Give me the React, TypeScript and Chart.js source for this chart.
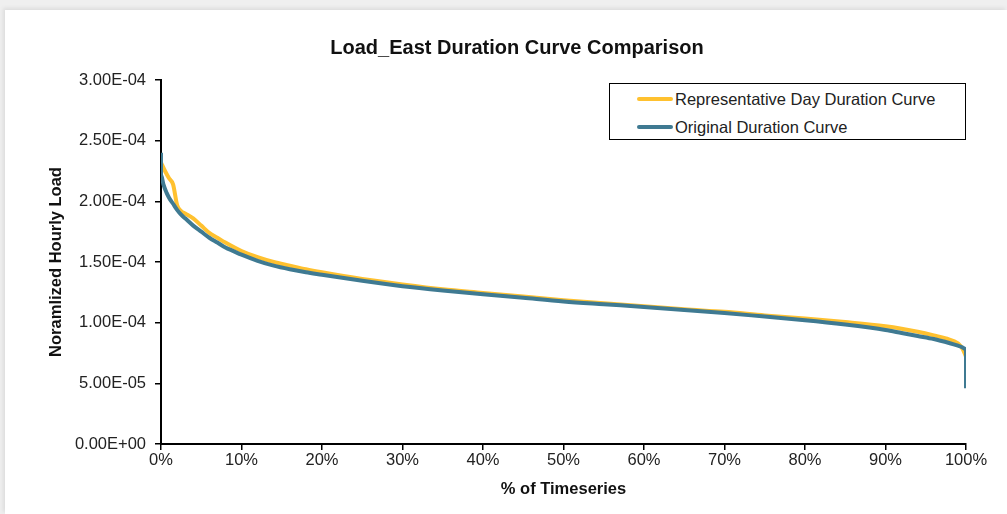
import React, { useEffect, useRef } from "react";
import { Chart, registerables } from "chart.js";

Chart.register(...registerables);

const TITLE = "Load_East Duration Curve Comparison";
const X_TITLE = "% of Timeseries";
const Y_TITLE = "Noramlized Hourly Load";
const REP_LABEL = "Representative Day Duration Curve";
const ORIG_LABEL = "Original Duration Curve";

const REP_COLOR = "#FFC12F";
const ORIG_COLOR = "#3F7A92";

// Original duration curve (% of timeseries, normalized load)
const origX = [0, 0, 0.3, 0.7, 1, 1.5, 2, 2.5, 3, 4, 5, 6, 7, 8, 9, 10, 12, 14, 16, 18, 20, 25, 30, 35, 40, 45, 50, 55, 60, 65, 70, 75, 80, 85, 88, 90, 92, 94, 96, 98, 99, 99.6, 100, 100];
const origY = [2.40e-4, 2.22e-4, 2.14e-4, 2.07e-4, 2.03e-4, 1.98e-4, 1.93e-4, 1.89e-4, 1.86e-4, 1.80e-4, 1.75e-4, 1.70e-4, 1.66e-4, 1.62e-4, 1.59e-4, 1.56e-4, 1.51e-4, 1.47e-4, 1.44e-4, 1.415e-4, 1.395e-4, 1.345e-4, 1.30e-4, 1.265e-4, 1.235e-4, 1.205e-4, 1.175e-4, 1.152e-4, 1.13e-4, 1.105e-4, 1.08e-4, 1.05e-4, 1.02e-4, 0.985e-4, 0.96e-4, 0.94e-4, 0.915e-4, 0.89e-4, 0.865e-4, 0.83e-4, 0.81e-4, 0.795e-4, 0.78e-4, 0.46e-4];

// Representative day duration curve
const repX = [0, 0.5, 1, 1.5, 2, 2.5, 3, 4, 5, 6, 7, 8, 10, 12, 14, 16, 18, 20, 25, 30, 35, 40, 45, 50, 55, 60, 65, 70, 75, 80, 85, 90, 92, 94, 96, 97.5, 99, 99.6, 100];
const repY = [2.32e-4, 2.25e-4, 2.19e-4, 2.14e-4, 1.97e-4, 1.92e-4, 1.90e-4, 1.86e-4, 1.80e-4, 1.74e-4, 1.70e-4, 1.66e-4, 1.59e-4, 1.54e-4, 1.50e-4, 1.47e-4, 1.44e-4, 1.415e-4, 1.36e-4, 1.315e-4, 1.275e-4, 1.245e-4, 1.215e-4, 1.185e-4, 1.16e-4, 1.135e-4, 1.11e-4, 1.09e-4, 1.06e-4, 1.035e-4, 1.005e-4, 0.97e-4, 0.95e-4, 0.925e-4, 0.895e-4, 0.87e-4, 0.83e-4, 0.78e-4, 0.72e-4];

const Y_MIN = 0;
const Y_MAX = 3e-4;
const Y_STEP = 5e-5;
const X_MIN = 0;
const X_MAX = 100;
const X_STEP = 10;

function fmtExp(v: number): string {
  const r = Math.round(v / 1e-6) * 1e-6;
  if (Math.abs(r) < 1e-12) return "0.00E+00";
  const s = r.toExponential(2).toUpperCase();
  const [m, e] = s.split("E");
  const sign = e[0] === "-" ? "-" : "+";
  const digits = e.replace(/[+-]/, "").padStart(2, "0");
  return `${m}E${sign}${digits}`;
}

const FONT = "'Liberation Sans', Arial, sans-serif";
const FS = 16.5;

const titlePlugin = {
  id: "centeredTitle",
  afterDraw(chart: any) {
    const ctx = chart.ctx;
    ctx.save();
    ctx.font = `bold 20px ${FONT}`;
    ctx.fillStyle = "#111";
    ctx.textAlign = "center";
    ctx.textBaseline = "middle";
    ctx.fillText(TITLE, chart.width / 2 + 11, 38);
    ctx.restore();
  },
};

export default function App() {
  const ref = useRef<HTMLCanvasElement | null>(null);

  useEffect(() => {
    if (!ref.current) return;
    const chart = new Chart(ref.current, {
      type: "line",
      data: {
        datasets: [
          {
            label: ORIG_LABEL,
            data: origX.map((x, i) => ({ x, y: origY[i] })),
            borderColor: ORIG_COLOR,
            backgroundColor: ORIG_COLOR,
            borderWidth: 4,
            pointRadius: 0,
            cubicInterpolationMode: "monotone",
            order: 0,
          },
          {
            label: REP_LABEL,
            data: repX.map((x, i) => ({ x, y: repY[i] })),
            borderColor: REP_COLOR,
            backgroundColor: REP_COLOR,
            borderWidth: 4,
            pointRadius: 0,
            cubicInterpolationMode: "monotone",
            order: 1,
          },
        ],
      },
      plugins: [titlePlugin],
      options: {
        animation: false,
        responsive: true,
        maintainAspectRatio: false,
        layout: { padding: { left: 0, right: 41, top: 70, bottom: 0 } },
        plugins: {
          legend: { display: false },
          tooltip: { enabled: false },
          title: { display: false },
        },
        scales: {
          x: {
            type: "linear",
            min: X_MIN,
            max: X_MAX,
            afterFit: (s: any) => {
              s.height = 70;
            },
            ticks: {
              stepSize: X_STEP,
              color: "#222",
              font: { family: FONT, size: FS },
              padding: 1,
              maxRotation: 0,
              callback: (v: any) => `${v}%`,
            },
            grid: {
              display: true,
              drawOnChartArea: false,
              drawTicks: true,
              tickLength: 6,
              color: "#000",
              lineWidth: 1.5,
            },
            border: { display: true, color: "#000", width: 2 },
            title: {
              display: true,
              text: X_TITLE,
              color: "#111",
              font: { family: FONT, size: FS, weight: "bold" },
              padding: { top: 0, bottom: 15 },
            },
          },
          y: {
            type: "linear",
            min: Y_MIN,
            max: Y_MAX,
            afterFit: (s: any) => {
              s.width = 156;
            },
            ticks: {
              stepSize: Y_STEP,
              color: "#222",
              font: { family: FONT, size: FS },
              padding: 9,
              callback: (v: any) => fmtExp(Number(v)),
            },
            grid: {
              display: true,
              drawOnChartArea: false,
              drawTicks: true,
              tickLength: 6,
              color: "#000",
              lineWidth: 1.5,
            },
            border: { display: true, color: "#000", width: 2 },
            title: {
              display: true,
              text: Y_TITLE,
              color: "#111",
              font: { family: FONT, size: FS, weight: "bold" },
              padding: { top: 42, bottom: 0 },
            },
          },
        },
      },
    });
    return () => chart.destroy();
  }, []);

  const legendRow = (color: string, label: string) => (
    <div style={{ display: "flex", alignItems: "center", height: 28 }}>
      <div style={{ width: 36, height: 4, background: color, borderRadius: 2, marginLeft: 27, marginRight: 2 }} />
      <span style={{ fontFamily: FONT, fontSize: FS, color: "#222", whiteSpace: "nowrap" }}>{label}</span>
    </div>
  );

  return (
    <div style={{ position: "fixed", left: 0, top: 0, width: 1007, height: 514, background: "#efefef", overflow: "hidden" }}>
      <div style={{ position: "absolute", left: 5, top: 10, width: 1002, height: 504, background: "#fff", boxShadow: "-2px -2px 4px rgba(0,0,0,0.08)" }}>
        <canvas ref={ref} />
        <div
          style={{
            position: "absolute",
            left: 604,
            top: 73,
            width: 355,
            height: 54,
            border: "1.5px solid #000",
            background: "#fff",
            paddingTop: 1,
          }}
        >
          {legendRow(REP_COLOR, REP_LABEL)}
          {legendRow(ORIG_COLOR, ORIG_LABEL)}
        </div>
      </div>
    </div>
  );
}
